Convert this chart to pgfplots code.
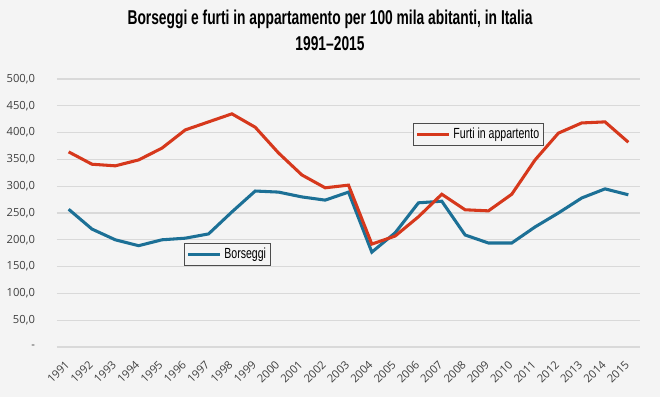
\documentclass[border=0pt]{standalone}
\usepackage{fontspec}
\setmainfont{Open Sans}
\newfontfamily\titlefont[FakeStretch=0.69,Ligatures=TeX]{Liberation Sans}
\newfontfamily\legfont[FakeStretch=0.72]{Liberation Sans}
\usepackage{pgfplots}
\usepackage{pgfplotstable}
\pgfplotsset{compat=1.18}
\definecolor{bg}{HTML}{F4F4F4}
\definecolor{gridc}{HTML}{D9D9D9}
\definecolor{furti}{RGB}{214,56,28}
\definecolor{bors}{RGB}{28,112,150}
\definecolor{tickc}{HTML}{404040}

\pgfplotstableread{
x bors furti
0 257 364
1 220 341
2 200 338
3 189 349
4 200 371
5 203 405
6 211 420
7 252 435
8 291 410
9 289 362
10 280 321
11 274 297
12 289 302
13 177 192
14 213 207
15 269 243
16 272 285
17 209 256
18 194 254
19 194 285
20 224 349
21 250 399
22 278 418
23 295 420
24 284 382
}\data

\pgfplotsset{
  base/.style={
    scale only axis,
    width=437.25pt, height=201pt,
    at={(42.75pt,37.5pt)}, anchor=south west,
    xmin=-0.5, xmax=24.5, ymin=0, ymax=500,
    axis line style={draw=none},
    legend style={draw=gray!60!black, fill=bg, line width=0.8pt,
      font=\legfont\fontsize{11pt}{13pt}\selectfont, inner sep=1.5pt,
      /tikz/every even column/.append style={column sep=0pt}},
    legend cell align=left,
    legend image code/.code={\draw[#1] (0pt,0pt) -- (24pt,0pt);},
  }
}

\begin{document}
\begin{tikzpicture}
\useasboundingbox (0pt,0pt) rectangle (495pt,297.75pt);
\fill[bg] (0pt,0pt) rectangle (495pt,297.75pt);
\node[anchor=base, inner sep=0pt, font=\titlefont\bfseries\fontsize{15pt}{17pt}\selectfont] at (247.5pt,279pt) {Borseggi e furti in appartamento per 100 mila abitanti, in Italia};
\node[anchor=base, inner sep=0pt, font=\titlefont\bfseries\fontsize{15pt}{17pt}\selectfont] at (247.5pt,259.5pt) {1991–2015};

\begin{axis}[base,
  ymajorgrids, major grid style={gridc, line width=0.9pt},
  xtick=data, xticklabels={1991,1992,1993,1994,1995,1996,1997,1998,1999,2000,2001,2002,2003,2004,2005,2006,2007,2008,2009,2010,2011,2012,2013,2014,2015},
  ytick={0,50,...,500},
  yticklabels={{-\hspace{7.5pt}},{50,0},{100,0},{150,0},{200,0},{250,0},{300,0},{350,0},{400,0},{450,0},{500,0}},
  major tick length=0pt,
  tick label style={font=\fontsize{8.4pt}{10pt}\selectfont, text=tickc},
  yticklabel style={xshift=-13pt},
  xticklabel style={xshift=-0.6pt, yshift=-11.5pt, rotate=45, anchor=east, inner sep=0.3pt},
  legend style={at={(0.611,0.836)}, anchor=north west},
]
\addplot[bors, line width=2.3pt, forget plot] table[x=x, y=bors] {\data};
\addplot[furti, line width=2.3pt] table[x=x, y=furti] {\data};
\addlegendentry{Furti in appartento}
\end{axis}

\begin{axis}[base, hide axis,
  legend style={at={(0.218,0.388)}, anchor=north west},
]
\addlegendimage{bors, line width=2.3pt}
\addlegendentry{Borseggi}
\end{axis}
\end{tikzpicture}
\end{document}
